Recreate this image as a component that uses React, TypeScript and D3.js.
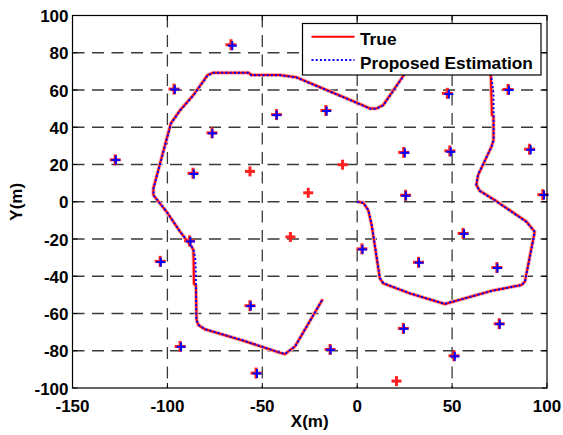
import React from 'react'
import * as d3 from 'd3'

const width = 563
const height = 435
const left = 72.5
const right = 547
const top = 15.5
const bottom = 388

const xTicks = [-150, -100, -50, 0, 50, 100]
const yTicks = [-100, -80, -60, -40, -20, 0, 20, 40, 60, 80, 100]

// anchor nodes (true) and their estimates
const nodeX = [-66.5, -96.5, -127.5, -76.5, -86.5, -42.5, -16.5, 24.5, 25.5, 47.5, 48.8, 79.5, 90.8, 97.8, -88.3, -103.8, -56.5, -93.3, -53.3, 2.5, 32.3, 55.8, 73.6, 74.8, 24.3, -14.3, 51]
const nodeY = [84.3, 60.5, 22.5, 37, 15.3, 46.8, 49, 26.5, 3.5, 58.2, 27.3, 60.3, 28.2, 3.8, -21, -32, -55.8, -77.7, -92, -25.3, -32.5, -17, -35.3, -65.5, -68, -79.3, -82.7]
const estX = [-65.8, -96.1, -127.2, -76.3, -86.1, -42.4, -16.1, 25.1, 25.6, 48.3, 49.3, 80, 91.4, 98.4, -87.9, -103.5, -56.1, -92.8, -52.8, 2.8, 32.6, 56.3, 73.9, 75.1, 24.6, -14, 51.4]
const estY = [83.8, 60.3, 22.4, 36.7, 14.9, 46.5, 48.7, 26.3, 3.2, 57.8, 26.8, 60, 27.9, 3.6, -21.3, -32.4, -56, -77.9, -92.2, -25.6, -32.7, -17.2, -35.6, -65.7, -68.2, -79.5, -83]

// reference nodes, no estimate
const refX = [-56.5, -25.8, -7.7, -35.2, 20.7]
const refY = [16.3, 4.8, 19.9, -18.9, -96.3]

// trajectory
const trueX = [0, 3.2, 5.8, 7.6, 11.9, 13.7, 27.7, 46.2, 71.6, 86.5, 88.3, 93.5, 89.2, 72.5, 64.6, 62.8, 63.7, 70.7, 71.8, 71.8, 71, 70.4, 62, 30, 24.2, 13.7, 10.2, 6.7, -0.3, -16.1, -31.9, -40.7, -55.6, -57.4, -75.8, -78.9, -80.7, -86.3, -93.3, -98.2, -98.9, -103.4, -107.4, -107.4, -100.4, -93.3, -87.2, -86.3, -86, -85, -84.6, -83.7, -80.2, -60, -40.7, -38.1, -32.8, -18.2]
const trueY = [0, -0.5, -4.5, -12.5, -41.1, -43.8, -49.2, -54.9, -47.6, -44.7, -43, -16.1, -10.7, 0.9, 5.9, 9, 14.3, 29.5, 33.1, 46, 46.5, 68, 80, 78, 67.5, 51.9, 50.1, 50.1, 53.2, 60, 66.8, 68, 68, 69.3, 69.3, 68, 65.3, 57.3, 49.2, 42.1, 39.4, 22.4, 7.2, 3.6, -5.4, -16.1, -24.2, -26, -44, -45, -63.5, -66.2, -68.5, -74.6, -81.1, -81.8, -77.7, -52.4]
const estPathX = [0, 3.3, 5.9, 7.7, 12, 13.8, 27.7, 46.1, 71.6, 86.4, 88.4, 93.6, 89.1, 72.4, 64.5, 62.7, 63.6, 70.8, 71.9, 71.9, 71.8, 70.6, 62, 30, 24.3, 13.8, 10.2, 6.6, -0.3, -16.2, -32, -40.8, -55.7, -57.4, -75.7, -78.8, -80.6, -86.2, -93.2, -98.1, -98.8, -103.3, -107.3, -107.3, -100.3, -93.2, -87.1, -86.2, -85.3, -84.9, -84.8, -83.6, -80.1, -60, -40.6, -38, -32.7, -18.3]
const estPathY = [0, -0.6, -4.6, -12.6, -41, -43.7, -49.1, -54.8, -47.7, -44.8, -43.1, -16.2, -10.8, 0.8, 5.8, 9.1, 14.4, 29.6, 33.2, 40, 58, 67.9, 80, 78, 67.4, 51.8, 50, 50, 53.1, 59.9, 66.7, 67.9, 67.9, 69.2, 69.2, 67.9, 65.2, 57.2, 49.1, 42, 39.3, 22.3, 7.1, 3.5, -5.5, -16.2, -24.3, -26.1, -30, -45, -63.4, -66.1, -68.4, -74.5, -81, -81.7, -77.6, -52.5]

const font = "'Liberation Sans', Arial, Helvetica, sans-serif"

const Plus = ({ cx, cy, s, color, w }: { cx: number; cy: number; s: number; color: string; w: number }) => (
  <g stroke={color} strokeWidth={w}>
    <line x1={cx - s} x2={cx + s} y1={cy} y2={cy} />
    <line x1={cx} x2={cx} y1={cy - s} y2={cy + s} />
  </g>
)

const App = () => {
  const x = d3.scaleLinear().domain([-150, 100]).range([left, right])
  const y = d3.scaleLinear().domain([-100, 100]).range([bottom, top])

  const line = d3.line<[number, number]>()
    .x(d => x(d[0]))
    .y(d => y(d[1]))

  const truePts = trueX.map((v, i) => [v, trueY[i]] as [number, number])
  const estPts = estPathX.map((v, i) => [v, estPathY[i]] as [number, number])

  return (
    <svg width={width} height={height} style={{ position: 'absolute', left: 0, top: 0, background: '#fff' }}
      fontFamily={font} fontWeight="bold">
      <rect x={0} y={0} width={width} height={height} fill="#fff" />
      {/* grid */}
      <g stroke="#3a3a3a" strokeWidth={1.3} strokeDasharray="12 7.5">
        {xTicks.slice(1, -1).map(t => (
          <line key={'gx' + t} x1={x(t)} x2={x(t)} y1={top} y2={bottom} />
        ))}
        {yTicks.slice(1, -1).map(t => (
          <line key={'gy' + t} x1={left} x2={right} y1={y(t)} y2={y(t)} />
        ))}
      </g>
      {/* ticks */}
      <g stroke="#000" strokeWidth={1}>
        {xTicks.map(t => (
          <g key={'tx' + t}>
            <line x1={x(t)} x2={x(t)} y1={bottom} y2={bottom - 5} />
            <line x1={x(t)} x2={x(t)} y1={top} y2={top + 5} />
          </g>
        ))}
        {yTicks.map(t => (
          <g key={'ty' + t}>
            <line x1={left} x2={left + 5} y1={y(t)} y2={y(t)} />
            <line x1={right} x2={right - 5} y1={y(t)} y2={y(t)} />
          </g>
        ))}
      </g>
      {/* trajectory */}
      <path d={line(truePts) ?? ''} fill="none" stroke="#ffb3b3" strokeWidth={4} strokeLinejoin="round" />
      <path d={line(truePts) ?? ''} fill="none" stroke="#ff0000" strokeWidth={2} strokeLinejoin="round" />
      <path d={line(estPts) ?? ''} fill="none" stroke="#0000ff" strokeWidth={2} strokeDasharray="2 2.2" />
      {/* nodes */}
      {refX.map((v, i) => (
        <Plus key={'r' + i} cx={x(v)} cy={y(refY[i])} s={5} color="#ff2020" w={3} />
      ))}
      {nodeX.map((v, i) => (
        <Plus key={'n' + i} cx={x(v)} cy={y(nodeY[i])} s={5.5} color="#ff2020" w={3} />
      ))}
      {estX.map((v, i) => (
        <Plus key={'e' + i} cx={x(estX[i])} cy={y(estY[i])} s={4.5} color="#0000ff" w={2} />
      ))}
      {/* axes box */}
      <rect x={left} y={top} width={right - left} height={bottom - top} fill="none" stroke="#000" strokeWidth={1.2} />
      {/* tick labels */}
      <g fontSize={17} fill="#000">
        {xTicks.map(t => (
          <text key={'lx' + t} x={x(t)} y={411.5} textAnchor="middle">{t}</text>
        ))}
        {yTicks.map(t => (
          <text key={'ly' + t} x={68.5} y={y(t) + 6.5} textAnchor="end">{t}</text>
        ))}
      </g>
      <text x={(left + right) / 2} y={427} textAnchor="middle" fontSize={17}>X(m)</text>
      <text transform={`translate(22,${(top + bottom) / 2}) rotate(-90)`} textAnchor="middle" fontSize={17}>Y(m)</text>
      {/* legend */}
      <g>
        <rect x={302.5} y={23.5} width={238.5} height={51.5} fill="#fff" stroke="#000" strokeWidth={1.2} />
        <line x1={311.5} x2={354.5} y1={36.7} y2={36.7} stroke="#ff0000" strokeWidth={2} />
        <line x1={311.5} x2={354.5} y1={60} y2={60} stroke="#0000ff" strokeWidth={2} strokeDasharray="2 2.2" />
        <text x={360} y={44.5} fontSize={17.3}>True</text>
        <text x={360} y={68.5} fontSize={17.3}>Proposed Estimation</text>
      </g>
    </svg>
  )
}

export default App
